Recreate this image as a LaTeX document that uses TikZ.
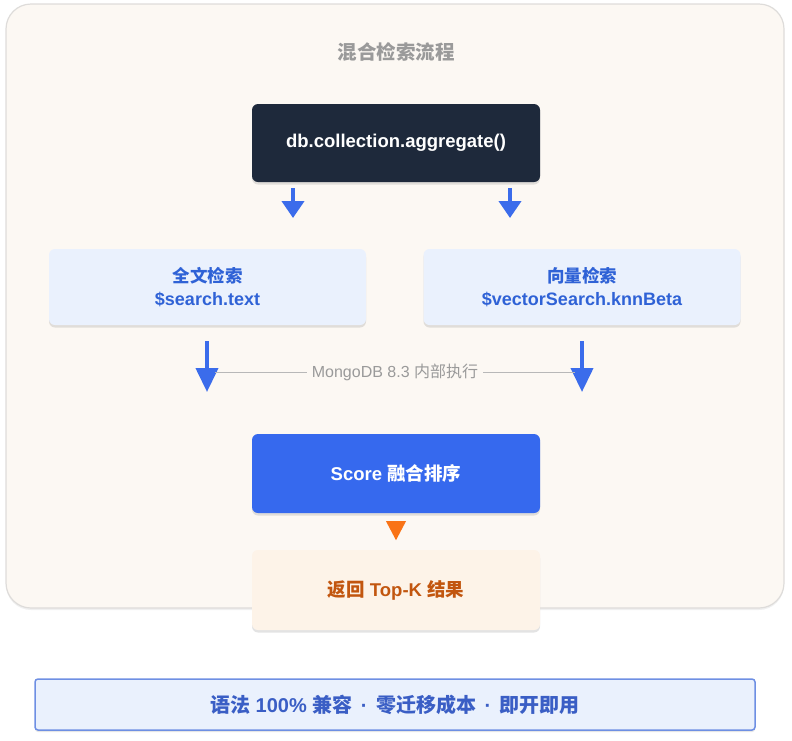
\documentclass[tikz,border=0pt]{standalone}
\usepackage{fontspec}
\setmainfont{Liberation Sans}
\newfontfamily\cjk{Noto Sans CJK SC}
\usetikzlibrary{arrows.meta,shadows,calc}
\definecolor{panelbg}{HTML}{FCF8F3}
\definecolor{panelline}{HTML}{DEDCDA}
\definecolor{darkbox}{HTML}{1E293B}
\definecolor{flowblue}{HTML}{3B6CEB}
\definecolor{paleblue}{HTML}{EAF1FD}
\definecolor{inkblue}{HTML}{2F62D6}
\definecolor{scoreblue}{HTML}{3669EE}
\definecolor{flowora}{HTML}{F97316}
\definecolor{paleora}{HTML}{FDF3E8}
\definecolor{inkora}{HTML}{C2560F}
\definecolor{bannerline}{HTML}{6E8FE3}
\definecolor{bannerink}{HTML}{3A5EC5}
\definecolor{notegray}{HTML}{9A9A9A}
\newcommand{\sepdot}{\hspace{3pt}·\hspace{3pt}}
\tikzset{
  box/.style={rectangle, rounded corners=6pt, minimum width=288pt, minimum height=78pt,
    align=center, font=\bfseries\fontsize{18.5}{23}\selectfont,
    drop shadow={opacity=0.22, shadow xshift=0pt, shadow yshift=-2.5pt}},
  src/.style={box, fill=paleblue, text=inkblue, minimum width=317pt, minimum height=76pt,
    font=\bfseries\fontsize{18}{23}\selectfont},
  bigarrow/.style={line width=4pt, flowblue, -{Triangle[width=22pt,length=24pt]}},
  smallarrow/.style={line width=4pt, flowblue, -{Triangle[width=22pt,length=17pt]}}
}
\begin{document}
\begin{tikzpicture}[x=1pt, y=-1pt]
\useasboundingbox (0,0) rectangle (792,740);
\node[draw=panelline, line width=1.2pt, fill=panelbg, rounded corners=25pt, minimum width=778pt,
  minimum height=604pt, drop shadow={opacity=0.12, shadow xshift=0pt, shadow yshift=-2pt}] (panel) at (395,306) {};
\node[text=notegray, font=\cjk\bfseries\fontsize{19.5}{22}\selectfont] (title) at (396,52) {混合检索流程};
\node[box, fill=darkbox, text=white] (agg) at (396,143) {db.collection.aggregate()};
\node[src] (fulltext) at (207.5,287) {{\cjk\fontsize{17.5}{23}\selectfont 全文检索}\\\$search.text};
\node[src] (vector) at (582,287) {{\cjk\fontsize{17.5}{23}\selectfont 向量检索}\\\$vectorSearch.knnBeta};
\node[box, fill=scoreblue, text=white, minimum height=79pt] (score) at (396,473.5) {Score {\cjk 融合排序}};
\node[box, fill=paleora, text=inkora, minimum height=80pt] (result) at (396,590) {{\cjk 返回} Top-K {\cjk 结果}};
\coordinate (ftend) at (207,392);
\coordinate (vecend) at (582,392);
\coordinate (aggl) at (293,218);
\coordinate (aggr) at (510,218);
\draw[smallarrow] (agg.south -| aggl) ++(0,6) -- (aggl);
\draw[smallarrow] (agg.south -| aggr) ++(0,6) -- (aggr);
\draw[bigarrow] (fulltext.south -| ftend) ++(0,16) -- (ftend);
\draw[bigarrow] (vector.south -| vecend) ++(0,16) -- (vecend);
\draw[notegray!70, line width=0.8pt] (215,372) -- (575,372);
\node[fill=panelbg, text=notegray, inner xsep=5pt, font=\fontsize{16}{19}\selectfont] (inner) at (395,372) {MongoDB 8.3 {\cjk 内部执行}};
\fill[flowora] ($(score.south)+(-10,8)$) -- ($(score.south)+(10,8)$) -- ($(score.south)+(0,27)$) -- cycle;
\node[draw=bannerline, line width=1.5pt, fill=paleblue, text=bannerink, rounded corners=3pt,
  minimum width=720pt, minimum height=51pt, font=\bfseries\fontsize{20}{23}\selectfont,
  drop shadow={opacity=0.2, shadow xshift=0pt, shadow yshift=-2pt}] (banner) at (395,704.5)
  {{\cjk 语法} 100\% {\cjk 兼容} \sepdot{} {\cjk 零迁移成本} \sepdot{} {\cjk 即开即用}};
\end{tikzpicture}
\end{document}
